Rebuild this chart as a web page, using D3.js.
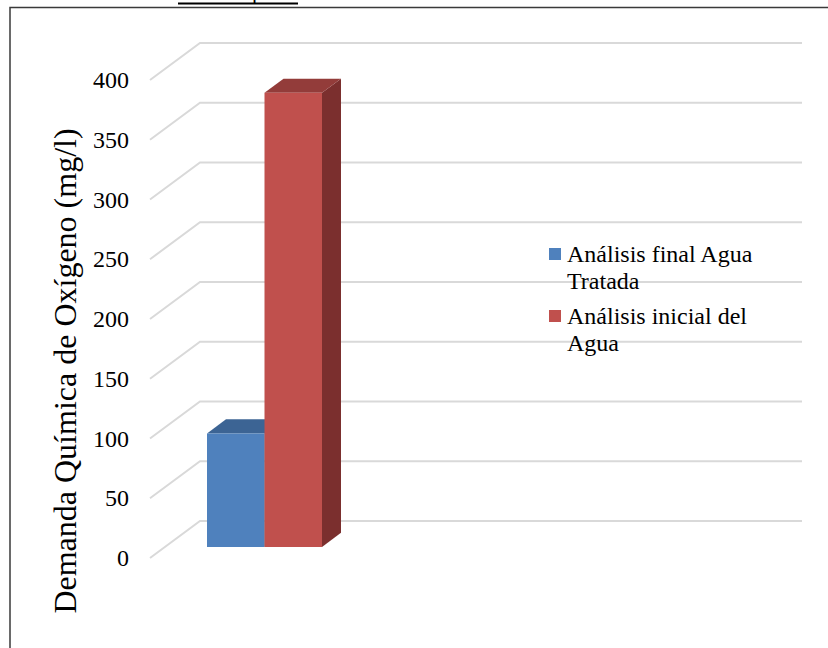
<!DOCTYPE html>
<html>
<head>
<meta charset="utf-8">
<script src="https://cdn.jsdelivr.net/npm/d3@7"></script>
<style>
  html, body { margin: 0; padding: 0; background: #fff; }
  svg { display: block; }
  svg text { font-family: "Liberation Serif", "DejaVu Serif", serif; }
</style>
</head>
<body>
<svg id="chart" width="828" height="648"></svg>
<script>
// Chart data
const seriesNames = ["Análisis final Agua Tratada", "Análisis inicial del Agua"];
const seriesValues = [95, 380];
const seriesColors = ["#4F81BD", "#C0504D"];
const topColors = ["#3C6494", "#933C3A"];
const sideColors = ["#2F4F78", "#7B2F2E"];
const tickValues = [0, 50, 100, 150, 200, 250, 300, 350, 400];
const legendLines = [["Análisis final Agua", "Tratada"], ["Análisis inicial del", "Agua"]];
const yTitle = "Demanda Química de Oxígeno (mg/l)";

const svg = d3.select("#chart");

// Outer frame (top and left edges)
svg.append("path")
  .attr("d", "M10,648 L10,7.5 L828,7.5")
  .attr("fill", "none").attr("stroke", "#3a3a3a").attr("stroke-width", 1.5);

// Heading above the frame, mostly out of view
svg.append("text").attr("x", 252).attr("y", -1)
  .attr("font-size", 22).text("p");
svg.append("line").attr("x1", 178).attr("x2", 298).attr("y1", 3.5).attr("y2", 3.5)
  .attr("stroke", "#000").attr("stroke-width", 2);

// 3D projection: depth d in [0,1] shifts right and up
const DX = 50, DY = 37;
const plotLeft = 150, plotRight = 752;
const y = d3.scaleLinear().domain([0, 400]).range([558, 80]);
const P = (x, v, d) => [x + d * DX, y(v) - d * DY];

// Gridlines: diagonal side wall + back wall
const gridG = svg.append("g");
tickValues.forEach(t => {
  const pts = [P(plotLeft, t, 0), P(plotLeft, t, 1), P(plotRight, t, 1)];
  gridG.append("path")
    .attr("d", d3.line()(pts))
    .attr("fill", "none").attr("stroke", "#d9d9d9").attr("stroke-width", 2);
});

// Tick labels
svg.append("g").selectAll("text").data(tickValues).join("text")
  .attr("x", 129).attr("y", d => y(d) + 8)
  .attr("text-anchor", "end")
  .attr("font-size", 24).attr("fill", "#000")
  .text(d => d);

// Axis title
svg.append("text")
  .attr("transform", "translate(76,371) rotate(-90)")
  .attr("text-anchor", "middle")
  .attr("font-size", 32).attr("fill", "#000")
  .text(yTitle);

// Bars
const x = d3.scaleBand().domain(seriesNames).range([192, 307]).padding(0);
const dF = 0.3, dB = 0.68;
const barG = svg.append("g");
const poly = pts => "M" + pts.map(p => p.join(",")).join("L") + "Z";
seriesNames.forEach((name, i) => {
  const v = seriesValues[i];
  const x0 = x(name), x1 = x0 + x.bandwidth();
  // side face
  barG.append("path")
    .attr("d", poly([P(x1, 0, dF), P(x1, v, dF), P(x1, v, dB), P(x1, 0, dB)]))
    .attr("fill", sideColors[i]);
  // top face
  barG.append("path")
    .attr("d", poly([P(x0, v, dF), P(x1, v, dF), P(x1, v, dB), P(x0, v, dB)]))
    .attr("fill", topColors[i]);
  // front face
  barG.append("path")
    .attr("d", poly([P(x0, 0, dF), P(x1, 0, dF), P(x1, v, dF), P(x0, v, dF)]))
    .attr("fill", seriesColors[i]);
});

// Legend
const legend = svg.append("g");
legendLines.forEach((lines, i) => {
  const top = 248 + i * 62;
  legend.append("rect").attr("x", 549).attr("y", top)
    .attr("width", 12).attr("height", 12).attr("fill", seriesColors[i]);
  lines.forEach((ln, j) => {
    legend.append("text")
      .attr("x", 567).attr("y", top + 14 + j * 26.5)
      .attr("font-size", 24).attr("fill", "#000")
      .text(ln);
  });
});
</script>
</body>
</html>
